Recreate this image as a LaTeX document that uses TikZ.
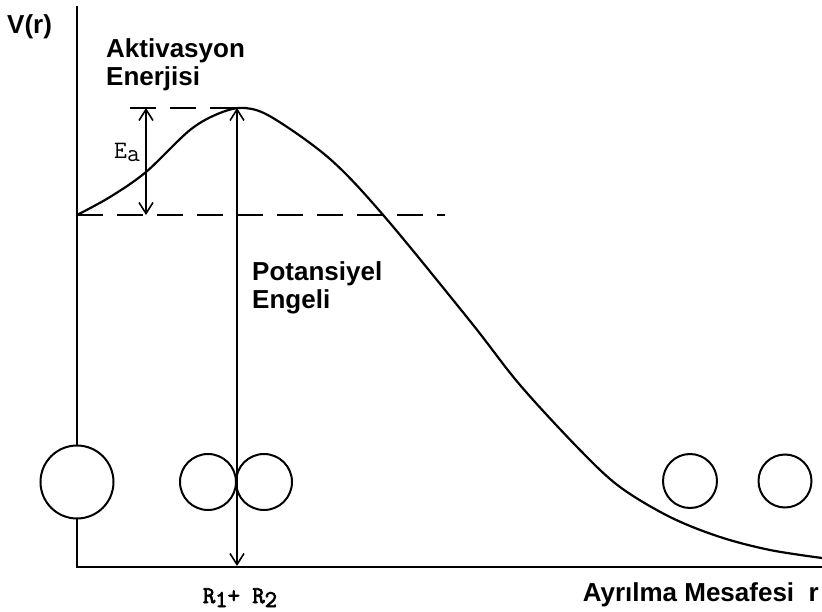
\documentclass[tikz,border=0pt]{standalone}
\usepackage{fontspec}
\setmainfont{Liberation Sans}
\newfontface\myttfont{Latin Modern Mono}
\newfontface\myttbold[FakeBold=3]{Latin Modern Mono}
\usetikzlibrary{arrows.meta}
\begin{document}
\begin{tikzpicture}[x=1pt,y=-1pt,
  axis/.style={line width=2.2pt},
  curveline/.style={line width=2.2pt},
  dashline/.style={line width=1.6pt, dash pattern=on 26pt off 14pt},
  dimarrow/.style={line width=1.6pt, {Straight Barb[length=11pt,width=14pt,line width=1.6pt]}-{Straight Barb[length=11pt,width=14pt,line width=1.6pt]}},
  ball/.style={circle, draw, line width=2pt, fill=white, inner sep=0pt},
  lbl/.style={font=\fontsize{26}{29}\selectfont\bfseries, align=left, inner sep=0pt},
  mono/.style={inner sep=0pt}]
\useasboundingbox (0,0) rectangle (822,612);
% axes
\coordinate (ytop) at (77,6);
\coordinate (orig) at (77,567);
\coordinate (xend) at (822,567);
\draw[axis] (ytop) -- (orig) -- (xend);
% levels
\coordinate (peak) at (245,108);
\coordinate (topdash) at (130,108);
\coordinate (botdashL) at (77,215);
\coordinate (botdashR) at (445,215);
\draw[dashline] (topdash) -- (peak);
\draw[dashline] (botdashL) -- (botdashR);
% curve
\draw[curveline] plot[smooth, tension=0.55] coordinates {(77,215) (110,197) (146,172) (190,130) (220,113) (245,108) (273,118) (330,159) (384,216) (470,321) (520,385) (580,450) (620,487) (670,517) (720,537) (770,550) (822,558)};
% arrows
\coordinate (eaT) at (146,108);
\coordinate (eaB) at (146,215);
\draw[dimarrow] (eaB) -- (eaT);
\coordinate (pbT) at (237,108);
\coordinate (pbB) at (237,566);
% balls
\node[ball, minimum size=73pt] (b0) at (77,482) {};
\node[ball, minimum size=56pt] (b1) at (208,482) {};
\node[ball, minimum size=56pt] (b2) at (264,482) {};
\node[ball, minimum size=54pt] (b3) at (690,481) {};
\node[ball, minimum size=53pt] (b4) at (785,481) {};
\draw[dimarrow] (pbB) -- (pbT);
% labels
\node[lbl, anchor=west] (vr) at (7,27) {V(r)};
\node[lbl, anchor=north west] (akt) at (106,38) {Aktivasyon\\[-1pt]Enerjisi};
\node[lbl, anchor=north west] (pot) at (252,261) {Potansiyel\\[-1pt]Engeli};
\node[lbl, anchor=east] (ayr) at (819,595) {Ayrılma Mesafesi\ \ r};
\node[mono, anchor=base west] (ea) at (114,159) {\myttfont\fontsize{25}{27}\selectfont E\raisebox{-3pt}{a}};
\node[mono, anchor=base] (rr) at (240,603) {\myttbold\fontsize{24}{26}\selectfont R\raisebox{-4pt}{1}+ R\raisebox{-4pt}{2}};
\end{tikzpicture}
\end{document}
